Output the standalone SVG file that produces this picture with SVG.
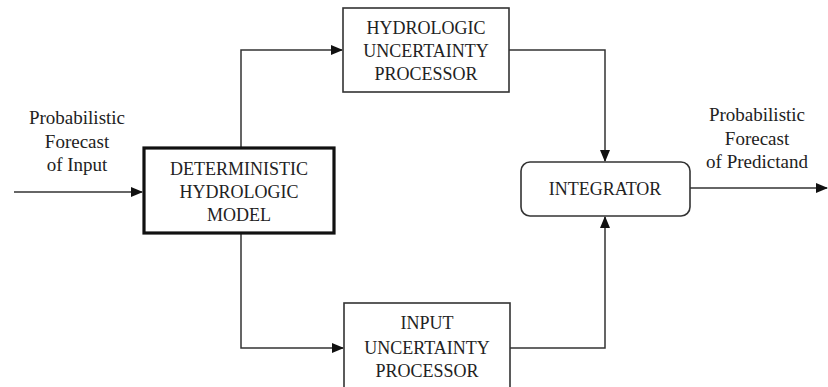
<svg xmlns="http://www.w3.org/2000/svg" width="828" height="387" viewBox="0 0 828 387">
<defs>
<marker id="ah" markerWidth="12" markerHeight="10" refX="11" refY="5" orient="auto" markerUnits="userSpaceOnUse"><path d="M0,0 L12,5 L0,10 z" fill="#111"/></marker>
<style>
text{font-family:'Liberation Serif','DejaVu Serif',serif;font-size:18px;fill:#222;text-anchor:middle}
.lbl{font-size:19px}
.box{fill:#fff;stroke:#333;stroke-width:1.6}
.line{fill:none;stroke:#333;stroke-width:1.5}
</style>
</defs>
<rect width="828" height="387" fill="#fff"/>
<g id="connectors">
<path class="line" d="M14,192 H142" marker-end="url(#ah)"/>
<path class="line" d="M241,147 V50 H342" marker-end="url(#ah)"/>
<path class="line" d="M241,233 V348 H343" marker-end="url(#ah)"/>
<path class="line" d="M509,50 H605 V161" marker-end="url(#ah)"/>
<path class="line" d="M510,348 H605 V217" marker-end="url(#ah)"/>
<path class="line" d="M690,188 H827" marker-end="url(#ah)"/>
</g>
<g id="label-input">
<text class="lbl" x="77" y="124">Probabilistic</text>
<text class="lbl" x="77" y="148">Forecast</text>
<text class="lbl" x="77" y="171">of Input</text>
</g>
<g id="label-output">
<text class="lbl" x="757" y="121">Probabilistic</text>
<text class="lbl" x="757" y="145">Forecast</text>
<text class="lbl" x="757" y="168">of Predictand</text>
</g>
<g id="dhm">
<rect x="144" y="148" width="190" height="85" fill="#fff" stroke="#111" stroke-width="3.2"/>
<text x="239" y="175">DETERMINISTIC</text>
<text x="239" y="198">HYDROLOGIC</text>
<text x="239" y="221">MODEL</text>
</g>
<g id="hup">
<rect class="box" x="343" y="8" width="166" height="84"/>
<text x="426" y="34">HYDROLOGIC</text>
<text x="426" y="57">UNCERTAINTY</text>
<text x="426" y="80">PROCESSOR</text>
</g>
<g id="iup">
<rect class="box" x="344" y="303" width="166" height="90"/>
<text x="427" y="329">INPUT</text>
<text x="427" y="354">UNCERTAINTY</text>
<text x="427" y="377">PROCESSOR</text>
</g>
<g id="integrator">
<rect class="box" x="521" y="162" width="169" height="54" rx="9"/>
<text x="605" y="195">INTEGRATOR</text>
</g>
</svg>
